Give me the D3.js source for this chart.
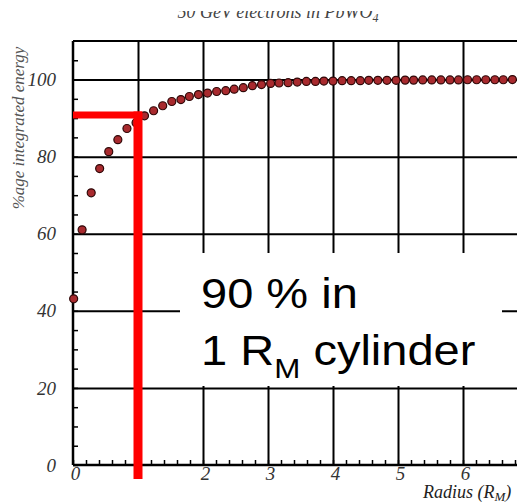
<!DOCTYPE html>
<html>
<head>
<meta charset="utf-8">
<script src="https://cdn.jsdelivr.net/npm/d3@7"></script>
<style>
  body { margin: 0; background: #fff; }
  svg { display: block; }
</style>
</head>
<body>
<div id="chart"></div>
<script>
// values
const radius = [0.01, 0.14, 0.28, 0.41, 0.55, 0.69, 0.83, 0.97, 1.10, 1.24,
    1.38, 1.52, 1.66, 1.79, 1.93, 2.07, 2.21, 2.35, 2.48, 2.62,
    2.76, 2.90, 3.04, 3.17, 3.31, 3.45, 3.59, 3.73, 3.86, 4.00,
    4.14, 4.28, 4.42, 4.55, 4.69, 4.83, 4.97, 5.11, 5.24, 5.38,
    5.52, 5.66, 5.80, 5.93, 6.07, 6.21, 6.35, 6.49, 6.62, 6.76, 6.90]
const energy = [43.1, 61.0, 70.6, 76.9, 81.3, 84.4, 87.3, 88.8, 90.6, 91.9,
    93.2, 94.3, 94.8, 95.6, 96.1, 96.5, 96.9, 97.1, 97.5, 97.9,
    98.4, 98.7, 99.0, 99.1, 99.2, 99.35, 99.5, 99.5, 99.6, 99.6,
    99.7, 99.7, 99.7, 99.8, 99.8, 99.8, 99.8, 99.85, 99.85, 99.9,
    99.9, 99.9, 99.9, 99.9, 99.95, 99.95, 99.95, 99.95, 99.95, 100, 100]

const xTickLabels = [0, 2, 3, 4, 5, 6]
const xGrid = [1, 2, 3, 4, 5, 6, 7]
const yTickLabels = [0, 20, 40, 60, 80, 100]
const yGrid = [20, 40, 60, 80, 100]
const marker = { radius: 1, energy: 90.8 }

let dimensions = {
    width: 517,
    height: 502,
    left: 73,
    right: 528,
    top: 41,
    bottom: 465
}

const svg = d3.select('#chart')
    .append('svg')
    .attr('width', dimensions.width)
    .attr('height', dimensions.height)

const xScale = d3.scaleLinear().domain([0, 7]).range([dimensions.left, dimensions.right])
const yScale = d3.scaleLinear().domain([0, 110]).range([dimensions.bottom, dimensions.top])
const plotH = dimensions.bottom - dimensions.top
const plotW = dimensions.right - dimensions.left

const serif = '"Liberation Serif", "DejaVu Serif", serif'

// grid lines
svg.append('g')
    .attr('transform', `translate(0,${dimensions.bottom})`)
    .call(d3.axisBottom(xScale).tickValues(xGrid).tickSize(-plotH).tickFormat(''))
    .call(g => g.select('.domain').remove())
    .selectAll('line').attr('stroke', '#000').attr('stroke-width', 2)

svg.append('g')
    .attr('transform', `translate(${dimensions.left},0)`)
    .call(d3.axisLeft(yScale).tickValues(yGrid).tickSize(-plotW).tickFormat(''))
    .call(g => g.select('.domain').remove())
    .selectAll('line').attr('stroke', '#000').attr('stroke-width', 2)

// minor ticks
svg.append('g')
    .attr('transform', `translate(0,${dimensions.bottom})`)
    .call(d3.axisBottom(xScale).tickValues(d3.range(0, 7.01, 0.2)).tickSize(-5).tickFormat(''))
    .call(g => g.select('.domain').remove())
    .selectAll('line').attr('stroke', '#000').attr('stroke-width', 1.5)

svg.append('g')
    .attr('transform', `translate(${dimensions.left},0)`)
    .call(d3.axisLeft(yScale).tickValues(d3.range(0, 110, 5)).tickSize(-5).tickFormat(''))
    .call(g => g.select('.domain').remove())
    .selectAll('line').attr('stroke', '#000').attr('stroke-width', 1.5)

// frame
svg.append('line')
    .attr('x1', dimensions.left).attr('x2', dimensions.right)
    .attr('y1', dimensions.top).attr('y2', dimensions.top)
    .attr('stroke', '#000').attr('stroke-width', 2)
svg.append('line')
    .attr('x1', dimensions.left).attr('x2', dimensions.right)
    .attr('y1', dimensions.bottom).attr('y2', dimensions.bottom)
    .attr('stroke', '#000').attr('stroke-width', 2.5)
svg.append('line')
    .attr('x1', dimensions.left).attr('x2', dimensions.left)
    .attr('y1', dimensions.top).attr('y2', dimensions.bottom)
    .attr('stroke', '#000').attr('stroke-width', 2.5)

// tick labels
svg.append('g')
    .attr('transform', `translate(0,${dimensions.bottom})`)
    .call(d3.axisBottom(xScale).tickValues(xTickLabels).tickSize(0).tickPadding(1).tickFormat(d => d))
    .call(g => g.select('.domain').remove())
    .selectAll('text')
    .attr('dx', 2)
    .style('font-family', serif).style('font-style', 'italic')
    .style('font-size', '19px').attr('fill', '#333')

svg.append('g')
    .attr('transform', `translate(${dimensions.left},0)`)
    .call(d3.axisLeft(yScale).tickValues(yTickLabels).tickSize(0).tickPadding(17).tickFormat(d => d))
    .call(g => g.select('.domain').remove())
    .selectAll('text')
    .style('font-family', serif).style('font-style', 'italic')
    .style('font-size', '19px').attr('fill', '#333')

// data points
svg.append('g')
    .selectAll('circle')
    .data(radius.map((r, i) => ({ r: r, e: energy[i] })))
    .join('circle')
    .attr('cx', d => xScale(d.r))
    .attr('cy', d => yScale(d.e))
    .attr('r', 4)
    .attr('fill', '#a82a2e')
    .attr('stroke', '#2e0808')
    .attr('stroke-width', 1.2)

// red marker lines
svg.append('line')
    .attr('x1', dimensions.left).attr('x2', xScale(marker.radius) + 4)
    .attr('y1', yScale(marker.energy)).attr('y2', yScale(marker.energy))
    .attr('stroke', '#ff0000').attr('stroke-width', 7)
svg.append('line')
    .attr('x1', xScale(marker.radius)).attr('x2', xScale(marker.radius))
    .attr('y1', yScale(marker.energy) - 3.5).attr('y2', dimensions.bottom + 14)
    .attr('stroke', '#ff0000').attr('stroke-width', 9)

// annotation box
svg.append('rect')
    .attr('x', 180).attr('y', 253)
    .attr('width', 322).attr('height', 133)
    .attr('fill', '#fff')

const note = svg.append('g')
    .attr('font-family', 'Arial, "Liberation Sans", sans-serif')
    .attr('fill', '#000')

note.append('text')
    .attr('transform', 'translate(201,308) scale(1.12,1)')
    .attr('font-size', '42px')
    .text('90 % in')

const line2 = note.append('text')
    .attr('transform', 'translate(201,365) scale(1.12,1)')
    .attr('font-size', '42px')
line2.append('tspan').text('1 R')
line2.append('tspan').attr('font-size', '28px').attr('dy', 13).text('M')
line2.append('tspan').attr('dy', -13).text(' cylinder')

// axis titles
const xTitle = svg.append('text')
    .attr('x', 423).attr('y', 498)
    .attr('font-family', serif).attr('font-style', 'italic')
    .attr('font-size', '18px').attr('fill', '#222')
xTitle.append('tspan').text('Radius (R')
xTitle.append('tspan').attr('font-size', '13px').attr('dy', 3).text('M')
xTitle.append('tspan').attr('dy', -3).text(')')

svg.append('text')
    .attr('transform', 'translate(24,128) rotate(-90)')
    .attr('text-anchor', 'middle')
    .attr('font-family', serif).attr('font-style', 'italic')
    .attr('font-size', '17px').attr('fill', '#555')
    .text('%age integrated energy')

// title, only its lower part is visible in the picture
svg.append('clipPath').attr('id', 'titleClip')
    .append('rect').attr('x', 0).attr('y', 11).attr('width', 517).attr('height', 20)

const title = svg.append('text')
    .attr('clip-path', 'url(#titleClip)')
    .attr('x', 278).attr('y', 18)
    .attr('text-anchor', 'middle')
    .attr('font-family', serif).attr('font-style', 'italic')
    .attr('font-size', '18px').attr('fill', '#444')
title.append('tspan').text('50 GeV electrons in PbWO')
title.append('tspan').attr('font-size', '12px').attr('dy', 4).text('4')
</script>
</body>
</html>
